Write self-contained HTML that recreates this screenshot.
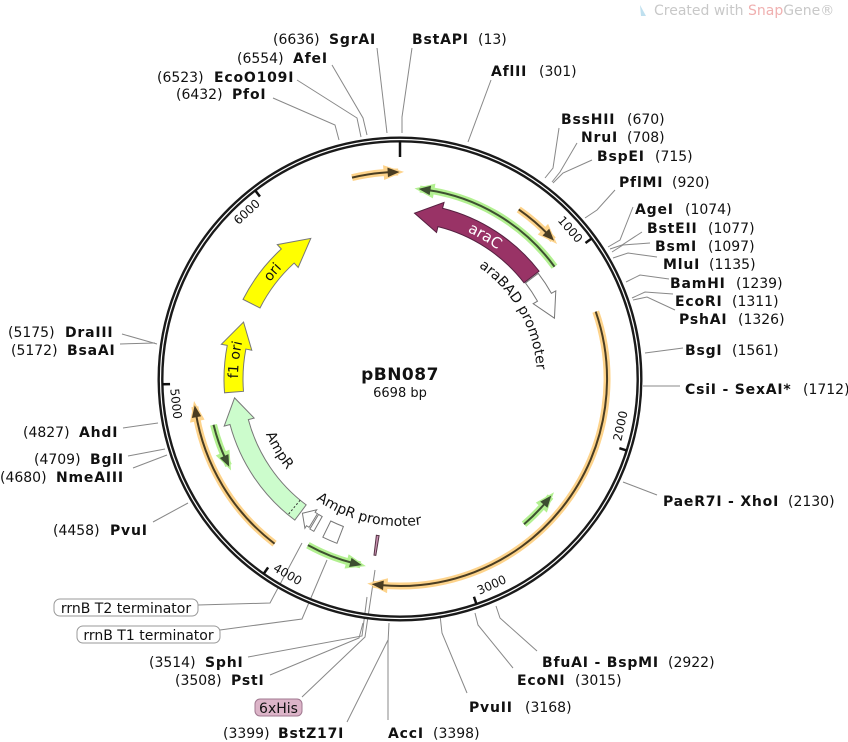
<!DOCTYPE html>
<html><head><meta charset="utf-8"><style>
html,body{margin:0;padding:0;background:#fff;}
svg{display:block;}
text{font-family:"DejaVu Sans","Liberation Sans",sans-serif;font-size:14px;fill:#111;}
.b{font-weight:bold;letter-spacing:0.8px;}
.tk{font-size:12px;}
.ld{stroke:#888;stroke-width:1;fill:none;}
</style></head><body>
<svg id="s" width="848" height="742" viewBox="0 0 848 742" xmlns="http://www.w3.org/2000/svg">
<defs>
<path id="cw137" d="M400,242 A137,137 0 1 1 400,516 A137,137 0 1 1 400,242"/>
<path id="cw162" d="M400,217 A162,162 0 1 1 400,541 A162,162 0 1 1 400,217"/>
<path id="ccw145" d="M400,234 A145,145 0 1 0 400,524 A145,145 0 1 0 400,234"/>
<path id="ccw147" d="M400,232 A147,147 0 1 0 400,526 A147,147 0 1 0 400,232"/>
</defs>

<path d="M640,5 L646,16 L641,16 Z" fill="#bfe0ef"/>
<text x="654" y="15" style="font-size:14px;fill:#c8c8c8">Created with <tspan style="fill:#f0b0b0">Snap</tspan>Gene®</text>

<g id="leaders">
<polyline class="ld" points="377,48 387,133"/>
<polyline class="ld" points="412,48 402,117 402,133"/>
<polyline class="ld" points="332,65 363,118 367,135"/>
<polyline class="ld" points="297,80 357,118 361,137"/>
<polyline class="ld" points="273,98 335,125 339,140"/>
<polyline class="ld" points="491,80 468,142"/>
<polyline class="ld" points="559,128 553,168 545,178"/>
<polyline class="ld" points="577,143 560,172 552,182"/>
<polyline class="ld" points="592,160 563,173 553,183"/>
<polyline class="ld" points="615,190 597,210 585,218"/>
<polyline class="ld" points="633,207 620,240 608,247"/>
<polyline class="ld" points="642,232 622,245 610,249"/>
<polyline class="ld" points="650,243 623,245 612,252"/>
<polyline class="ld" points="657,257 628,253 613,258"/>
<polyline class="ld" points="669,279 640,275 626,282"/>
<polyline class="ld" points="673,294 645,292 632,298"/>
<polyline class="ld" points="675,310 647,297 633,300"/>
<polyline class="ld" points="683,348 645,353"/>
<polyline class="ld" points="680,386 643,386"/>
<polyline class="ld" points="657,495 623,482"/>
<polyline class="ld" points="537,651 500,618 496,606"/>
<polyline class="ld" points="513,668 478,625 475,613"/>
<polyline class="ld" points="467,693 442,633 440,615"/>
<polyline class="ld" points="388,720 388,643 389,623"/>
<polyline class="ld" points="347,722 388,640"/>
<polyline class="ld" points="302,697 365,637 375,570"/>
<polyline class="ld" points="248,657 362,636 367,597"/>
<polyline class="ld" points="270,675 359,638 363,623"/>
<polyline class="ld" points="198,605 270,603 302,543"/>
<polyline class="ld" points="220,630 302,619 327,560"/>
<polyline class="ld" points="122,334 157,344"/>
<polyline class="ld" points="120,344 155,343"/>
<polyline class="ld" points="123,428 158,423"/>
<polyline class="ld" points="128,456 165,449"/>
<polyline class="ld" points="133,468 167,455"/>
<polyline class="ld" points="153,522 188,503"/>
</g>

<circle cx="400" cy="379" r="239.5" fill="none" stroke="#1a1a1a" stroke-width="6"/>
<circle cx="400" cy="379" r="239.5" fill="none" stroke="#fff" stroke-width="1.2"/>
<g id="feat"></g>

<g class="tk">
<text class="tk" text-anchor="middle" dominant-baseline="middle" x="400" y="153" transform="rotate(48.7 400 379)">1000</text>
<text class="tk" text-anchor="middle" dominant-baseline="middle" x="400" y="153" transform="rotate(102 400 379) rotate(180 400 153)">2000</text>
<text class="tk" text-anchor="middle" dominant-baseline="middle" x="400" y="153" transform="rotate(156 400 379) rotate(180 400 153)">3000</text>
<text class="tk" text-anchor="middle" dominant-baseline="middle" x="400" y="153" transform="rotate(209.9 400 379) rotate(180 400 153)">4000</text>
<text class="tk" text-anchor="middle" dominant-baseline="middle" x="400" y="153" transform="rotate(263.7 400 379) rotate(180 400 153)">5000</text>
<text class="tk" text-anchor="middle" dominant-baseline="middle" x="400" y="153" transform="rotate(317.5 400 379)">6000</text>
</g>

<text style="font-size:14px"><textPath href="#cw137" startOffset="145" text-anchor="middle">araBAD promoter</textPath></text>
<text style="font-size:15px;fill:#fff"><textPath href="#cw162" startOffset="87" text-anchor="middle">araC</textPath></text>
<text style="font-size:14px"><textPath href="#cw162" startOffset="782" text-anchor="middle">f1 ori</textPath></text>
<text style="font-size:14px"><textPath href="#cw162" startOffset="876" text-anchor="middle">ori</textPath></text>
<text style="font-size:14px"><textPath href="#ccw145" startOffset="305" text-anchor="middle">AmpR</textPath></text>
<text style="font-size:14px"><textPath href="#ccw147" startOffset="428" text-anchor="middle">AmpR promoter</textPath></text>

<text x="400" y="380" text-anchor="middle" class="b" style="font-size:17px;letter-spacing:0.5px">pBN087</text>
<text x="400" y="397" text-anchor="middle" style="font-size:13px">6698 bp</text>

<text x="273" y="44">(6636)</text><text class="b" x="329" y="44">SgrAI</text>
<text class="b" x="412" y="44">BstAPI</text><text x="478" y="44">(13)</text>
<text x="237" y="63">(6554)</text><text class="b" x="293" y="63">AfeI</text>
<text x="157" y="82">(6523)</text><text class="b" x="214" y="82">EcoO109I</text>
<text x="176" y="99">(6432)</text><text class="b" x="232" y="99">PfoI</text>
<text class="b" x="491" y="76">AflII</text><text x="539" y="76">(301)</text>

<text class="b" x="561" y="124">BssHII</text><text x="627" y="124">(670)</text>
<text class="b" x="581" y="142">NruI</text><text x="627" y="142">(708)</text>
<text class="b" x="597" y="161">BspEI</text><text x="655" y="161">(715)</text>
<text class="b" x="619" y="187">PflMI</text><text x="672" y="187">(920)</text>
<text class="b" x="635" y="214">AgeI</text><text x="685" y="214">(1074)</text>
<text class="b" x="647" y="233">BstEII</text><text x="708" y="233">(1077)</text>
<text class="b" x="655" y="251">BsmI</text><text x="708" y="251">(1097)</text>
<text class="b" x="663" y="269">MluI</text><text x="709" y="269">(1135)</text>
<text class="b" x="670" y="288">BamHI</text><text x="736" y="288">(1239)</text>
<text class="b" x="675" y="306">EcoRI</text><text x="732" y="306">(1311)</text>
<text class="b" x="679" y="324">PshAI</text><text x="738" y="324">(1326)</text>
<text class="b" x="685" y="355">BsgI</text><text x="732" y="355">(1561)</text>
<text class="b" x="685" y="394">CsiI - SexAI*</text><text x="803" y="394">(1712)</text>
<text class="b" x="663" y="506">PaeR7I - XhoI</text><text x="788" y="506">(2130)</text>
<text class="b" x="542" y="667">BfuAI - BspMI</text><text x="668" y="667">(2922)</text>
<text class="b" x="517" y="685">EcoNI</text><text x="575" y="685">(3015)</text>
<text class="b" x="469" y="712">PvuII</text><text x="525" y="712">(3168)</text>
<text class="b" x="388" y="738">AccI</text><text x="433" y="738">(3398)</text>
<text x="223" y="738">(3399)</text><text class="b" x="278" y="738">BstZ17I</text>
<rect x="255" y="699" width="47" height="17" rx="5" fill="#dcb4c8" stroke="#a07890"/>
<text x="278.5" y="713" text-anchor="middle">6xHis</text>
<text x="149" y="667">(3514)</text><text class="b" x="205" y="667">SphI</text>
<text x="175" y="685">(3508)</text><text class="b" x="231" y="685">PstI</text>
<rect x="54" y="599" width="144" height="17" rx="6" fill="#fff" stroke="#999"/>
<text x="126" y="613" text-anchor="middle">rrnB T2 terminator</text>
<rect x="77" y="626" width="143" height="17" rx="6" fill="#fff" stroke="#999"/>
<text x="148.5" y="640" text-anchor="middle">rrnB T1 terminator</text>

<text x="8" y="337">(5175)</text><text class="b" x="65" y="337">DraIII</text>
<text x="11" y="355">(5172)</text><text class="b" x="67" y="355">BsaAI</text>
<text x="23" y="437">(4827)</text><text class="b" x="79" y="437">AhdI</text>
<text x="34" y="464">(4709)</text><text class="b" x="90" y="464">BglI</text>
<text x="0" y="482">(4680)</text><text class="b" x="56" y="482">NmeAIII</text>
<text x="53" y="535">(4458)</text><text class="b" x="110" y="535">PvuI</text>
</svg>
<script>
(function(){
var NS="http://www.w3.org/2000/svg",g=document.getElementById("feat");
function P(r,a){a=a*Math.PI/180;return [400+r*Math.sin(a),379-r*Math.cos(a)];}
function f(p){return p[0].toFixed(2)+","+p[1].toFixed(2);}
function arc(r,a1,a2){var s=a2>a1?1:0,l=Math.abs(a2-a1)>180?1:0;return "A"+r+","+r+" 0 "+l+" "+s+" "+f(P(r,a2));}
function el(t,at){var e=document.createElementNS(NS,t);for(var k in at)e.setAttribute(k,at[k]);g.appendChild(e);return e;}
function line(x1,y1,x2,y2,w,c){el("line",{x1:x1,y1:y1,x2:x2,y2:y2,stroke:c,"stroke-width":w});}
[[0,222],[1000,230],[2000,230],[3000,230],[4000,230],[5000,230],[6000,230]].forEach(function(t){var a=t[0]/6698*360,p1=P(238,a),p2=P(t[1],a);line(p1[0],p1[1],p2[0],p2[1],2.5,"#111");});
function thin(r,a1,a2,tip,light,dark){
  var d=tip==a2?(a2>a1?1:-1):(a1>a2?1:-1);
  var other=tip==a2?a1:a2;var dl=10/r*180/Math.PI;
  var st=tip-d*dl*0.6;
  el("path",{d:"M"+f(P(r,other))+arc(r,other,tip),fill:"none",stroke:light,"stroke-width":7,"stroke-linecap":"butt"});
  var hb=tip-d*dl;
  el("path",{d:"M"+f(P(r+6,hb-d*1))+"L"+f(P(r,tip+d*0.8))+"L"+f(P(r-6,hb-d*1))+"Z",fill:light,stroke:light,"stroke-width":2});
  el("path",{d:"M"+f(P(r,other))+arc(r,other,st),fill:"none",stroke:dark,"stroke-width":2});
  el("path",{d:"M"+f(P(r+4,hb))+"L"+f(P(r,tip))+"L"+f(P(r-4,hb))+"Z",fill:dark,stroke:dark,"stroke-width":1});
}
var OL="#fdd38b",OD="#4a3d22",GL="#b2f090",GD="#3d4f30";
thin(207,-13.4,-0.5,-0.5,OL,OD);
thin(207,35,47.7,47.7,OL,OD);
thin(191,6,54,6,GL,GD);
thin(207,71,187.5,187.5,OL,OD);
thin(191,128,139.5,128,GL,GD);
thin(190,192,209,192,GL,GD);
thin(207,217.3,262.3,262.3,OL,OD);
thin(192,243.2,256.2,243.2,GL,GD);
function band(r1,r2,a1,a2,tip,hl,fill,stroke,hw){
  hw=hw||6;var d=tip==a2?(a2>a1?1:-1):(a1>a2?1:-1);var other=tip==a2?a1:a2;var base=tip-d*hl;var m=(r1+r2)/2;
  var p="M"+f(P(r2,other))+arc(r2,other,base)+"L"+f(P(r2+hw,base))+"L"+f(P(m,tip))+"L"+f(P(r1-hw,base))+"L"+f(P(r1,base))+arc(r1,base,other)+"Z";
  el("path",{d:p,fill:fill,stroke:stroke,"stroke-width":1});
}
band(157,176,5,52.2,5,9,"#993366","#552040");
band(158,174,52.6,68.5,68.5,8,"#fff","#777",5);
band(157,176,216.7,263.5,263.5,8.5,"#ccfccc","#777");
band(157,176,265.5,290,290,9,"#ffff00","#777");
band(157,176,296.9,327.6,327.6,10,"#ffff00","#777");
var q1=P(157,219.5),q2=P(176,219.5);el("line",{x1:q1[0],y1:q1[1],x2:q2[0],y2:q2[1],stroke:"#333","stroke-width":1,"stroke-dasharray":"2,2"});
band(158,174,211.5,216,216,3.5,"#fff","#777",3);
el("path",{d:"M"+f(P(158,209.5))+arc(158,209.5,211)+"L"+f(P(175,211))+arc(175,211,209.5)+"Z",fill:"#fff",stroke:"#777"});
el("path",{d:"M"+f(P(158,201))+arc(158,201,206)+"L"+f(P(176,206))+arc(176,206,201)+"Z",fill:"#fff",stroke:"#777"});
el("path",{d:"M"+f(P(158,187.6))+arc(158,187.6,188.6)+"L"+f(P(178,188.4))+arc(178,188.4,187.8)+"Z",fill:"#c890b0",stroke:"#553344","stroke-width":1});
})();
</script>
</body></html>
